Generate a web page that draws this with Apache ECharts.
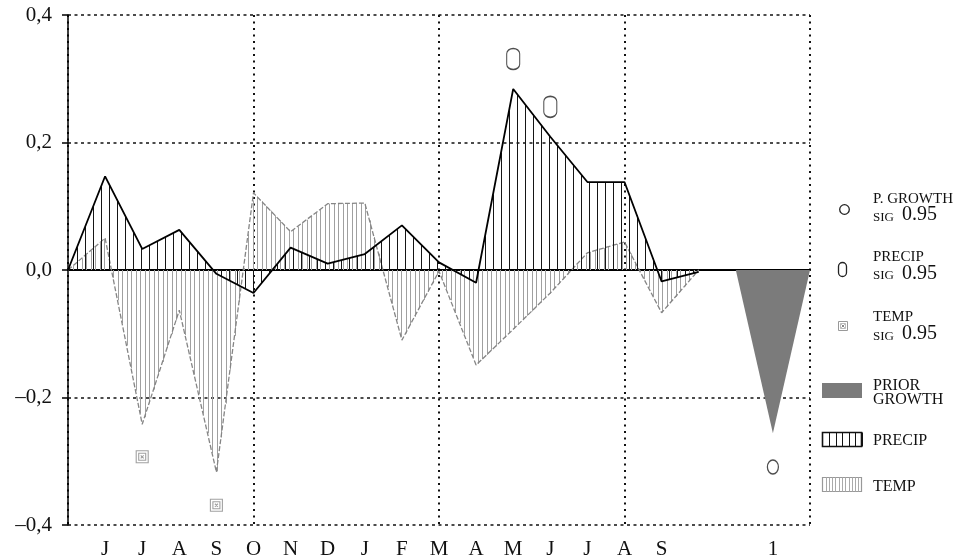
<!DOCTYPE html>
<html>
<head>
<meta charset="utf-8">
<script src="https://cdn.jsdelivr.net/npm/echarts@6/dist/echarts.min.js"></script>
<style>
  html, body { margin: 0; padding: 0; background: #fff; }
  #chart { width: 965px; height: 557px; }
</style>
</head>
<body>
<div id="chart"></div>
<script>
// Month labels of the response window, plus the prior-growth slot
const months = ['J', 'J', 'A', 'S', 'O', 'N', 'D', 'J', 'F', 'M', 'A', 'M', 'J', 'J', 'A', 'S'];
const priorLabel = '1';

// Position index of each series point (0 = origin, 1..16 = months, 17 = tail)
const seriesX = [0, 1, 2, 3, 4, 5, 6, 7, 8, 9, 10, 11, 12, 13, 14, 15, 16, 17];

// Response coefficients
const precipValues = [0, 0.147, 0.033, 0.063, -0.006, -0.036, 0.035, 0.010, 0.025, 0.070, 0.012, -0.020, 0.284, 0.209, 0.138, 0.138, -0.018, -0.003];
const tempValues   = [0, 0.050, -0.242, -0.063, -0.317, 0.121, 0.060, 0.104, 0.105, -0.110, -0.002, -0.149, -0.093, -0.036, 0.027, 0.044, -0.067, 0];

// Prior growth wedge
const priorX = [18, 19, 20];
const priorValues = [0, -0.256, 0];

// Significant coefficients (0.95)
const growthSigX = [19];
const growthSigValues = [-0.309];
const precipSigX = [12, 13];
const precipSigValues = [0.331, 0.256];
const tempSigX = [2, 4];
const tempSigValues = [-0.293, -0.369];

// Y tick labels use a decimal comma and an en dash
const yTickFormat = v => (v < -1e-9 ? '\u2013' : '') + Math.abs(v).toFixed(1).replace('.', ',');

const tickPos = months.map((m, i) => i + 1).concat([19]);
const tickText = months.concat([priorLabel]);

const SERIF = '"Liberation Serif", "DejaVu Serif", serif';

const zip = (xs, ys) => xs.map((x, i) => [x, ys[i]]);

// Vertical hatching between a polyline and the zero line
function hatchSeries(xs, ys, step, phase, color, z) {
  const segs = xs.slice(0, -1).map((x, i) => [x, ys[i], xs[i + 1], ys[i + 1]]);
  return {
    type: 'custom',
    z: z,
    silent: true,
    data: segs,
    encode: { x: [0, 2], y: [1, 3] },
    renderItem: function (params, api) {
      const a = api.coord([api.value(0), api.value(1)]);
      const b = api.coord([api.value(2), api.value(3)]);
      const y0 = api.coord([api.value(0), 0])[1];
      const left = api.coord([0, 0])[0] + phase;
      const children = [];
      let px = left + Math.ceil((a[0] - left) / step) * step;
      for (; px < b[0]; px += step) {
        const t = (px - a[0]) / (b[0] - a[0]);
        const y = a[1] + t * (b[1] - a[1]);
        const xx = Math.round(px) + 0.5;
        children.push({
          type: 'line',
          shape: { x1: xx, y1: y, x2: xx, y2: y0 },
          style: { stroke: color, lineWidth: 1 }
        });
      }
      return { type: 'group', children: children };
    }
  };
}

// Legend drawn as graphic elements
function legendGraphics() {
  const els = [];
  const tx = 873;
  const text = (s, x, baseline, size, color) => ({
    type: 'text', x: x, y: baseline - 0.33 * size,
    style: { text: s, font: size + 'px ' + SERIF, fill: color || '#111', verticalAlign: 'middle', align: 'left' }
  });
  const sigRow = (baseline) => [
    text('SIG', tx, baseline, 13),
    text('0.95', tx + 29, baseline, 20)
  ];

  // P. GROWTH SIG
  els.push({ type: 'circle', shape: { cx: 844.5, cy: 209.5, r: 4.8 }, style: { fill: 'none', stroke: '#222', lineWidth: 1.3 } });
  els.push(text('P. GROWTH', tx, 204.5, 15));
  els.push(...sigRow(221.8));

  // PRECIP SIG
  els.push({ type: 'rect', shape: { x: 838.5, y: 262.5, width: 8, height: 14, r: 4 }, style: { fill: 'none', stroke: '#222', lineWidth: 1.3 } });
  els.push(text('PRECIP', tx, 261.8, 15));
  els.push(...sigRow(280.2));

  // TEMP SIG
  els.push({ type: 'rect', shape: { x: 838.5, y: 321.5, width: 9, height: 9 }, style: { fill: 'none', stroke: '#999', lineWidth: 1 } });
  els.push({ type: 'rect', shape: { x: 840.5, y: 323.5, width: 5, height: 5 }, style: { fill: 'none', stroke: '#aaa', lineWidth: 0.8 } });
  els.push({ type: 'line', shape: { x1: 841.5, y1: 324.5, x2: 844.5, y2: 327.5 }, style: { stroke: '#666', lineWidth: 0.8 } });
  els.push({ type: 'line', shape: { x1: 844.5, y1: 324.5, x2: 841.5, y2: 327.5 }, style: { stroke: '#666', lineWidth: 0.8 } });
  els.push(text('TEMP', tx, 321.8, 15));
  els.push(...sigRow(340.8));

  // PRIOR GROWTH
  els.push({ type: 'rect', shape: { x: 822, y: 383, width: 40, height: 15 }, style: { fill: '#7b7b7b' } });
  els.push(text('PRIOR', tx, 390.7, 16));
  els.push(text('GROWTH', tx, 405.3, 16));

  // PRECIP hatch swatch
  els.push({ type: 'rect', shape: { x: 822.5, y: 432.5, width: 39, height: 14 }, style: { fill: '#fff', stroke: '#111', lineWidth: 1.6 } });
  for (let x = 829; x < 862; x += 6.5) {
    const xx = Math.round(x) + 0.5;
    els.push({ type: 'line', shape: { x1: xx, y1: 432.5, x2: xx, y2: 446.5 }, style: { stroke: '#111', lineWidth: 1 } });
  }
  els.push(text('PRECIP', tx, 446, 16));

  // TEMP hatch swatch
  els.push({ type: 'rect', shape: { x: 822.5, y: 477.5, width: 39, height: 14 }, style: { fill: '#fff', stroke: '#999', lineWidth: 1.2 } });
  for (let x = 825.5; x < 861; x += 3.3) {
    const xx = Math.round(x) + 0.5;
    els.push({ type: 'line', shape: { x1: xx, y1: 477.5, x2: xx, y2: 491.5 }, style: { stroke: '#aaa', lineWidth: 1 } });
  }
  els.push(text('TEMP', tx, 492, 16));
  return els;
}

const chart = echarts.init(document.getElementById('chart'), null, { renderer: 'canvas' });

chart.setOption({
  animation: false,
  backgroundColor: '#fff',
  grid: { left: 68, right: 155, top: 15, bottom: 32, containLabel: false, outerBoundsMode: 'none' },
  xAxis: [
    {
      type: 'value', min: 0, max: 20, interval: 5, position: 'top',
      axisLine: { show: true, onZero: true, lineStyle: { color: '#000', width: 2 } },
      axisTick: { show: false },
      axisLabel: { show: false },
      splitLine: { show: true, showMinLine: true, showMaxLine: true, lineStyle: { color: '#111', type: [2, 4.5], width: 2 } }
    },
    {
      type: 'value', min: 0, max: 20, position: 'bottom',
      axisLine: { show: false, onZero: false },
      axisTick: { show: false },
      splitLine: { show: false },
      axisLabel: {
        show: true,
        customValues: tickPos,
        formatter: v => { const i = tickPos.indexOf(v); return i >= 0 ? tickText[i] : ''; },
        margin: 14,
        fontFamily: SERIF, fontSize: 21, color: '#111'
      }
    }
  ],
  yAxis: {
    type: 'value', min: -0.4, max: 0.4, interval: 0.2,
    axisLine: { show: true, onZero: false, lineStyle: { color: '#000', width: 1.5 } },
    axisTick: { show: true, inside: false, length: 6, lineStyle: { color: '#000', width: 1.5 } },
    axisLabel: { formatter: yTickFormat, fontFamily: SERIF, fontSize: 21, color: '#111', margin: 16 },
    splitLine: { show: true, lineStyle: { color: '#111', type: [3, 3.5], width: 1.5 } }
  },
  graphic: legendGraphics(),
  series: [
    hatchSeries(seriesX, tempValues, 4.5, 0, '#a0a0a0', 1),
    {
      type: 'line', z: 2, silent: true, symbol: 'none',
      data: zip(seriesX, tempValues),
      lineStyle: { color: '#858585', width: 1.3, type: [5, 2] }
    },
    hatchSeries(seriesX, precipValues, 8, 1, '#151515', 3),
    {
      type: 'line', z: 4, silent: true, symbol: 'none',
      data: zip(seriesX, precipValues),
      lineStyle: { color: '#000', width: 1.8 }
    },
    {
      type: 'line', z: 2, silent: true, symbol: 'none',
      data: zip(priorX, priorValues),
      lineStyle: { width: 0, color: '#7b7b7b' },
      areaStyle: { color: '#7b7b7b', opacity: 1 }
    },
    {
      type: 'scatter', z: 5, silent: true,
      data: zip(growthSigX, growthSigValues),
      symbol: 'path://M0,7 A6,7 0 1 1 12,7 A6,7 0 1 1 0,7 Z',
      symbolSize: [11, 14], symbolKeepAspect: false,
      itemStyle: { color: 'rgba(255,255,255,0)', borderColor: '#222', borderWidth: 1.4 }
    },
    {
      type: 'scatter', z: 5, silent: true,
      data: zip(precipSigX, precipSigValues),
      symbol: 'path://M0,5 A6,5 0 0 1 12,5 L12,15 A6,5 0 0 1 0,15 Z',
      symbolSize: [13, 21], symbolKeepAspect: false,
      itemStyle: { color: 'rgba(255,255,255,0)', borderColor: '#222', borderWidth: 1.3 }
    },
    {
      type: 'scatter', z: 5, silent: true,
      data: zip(tempSigX, tempSigValues),
      symbol: 'path://M0,0 L12,0 L12,12 L0,12 Z M2.5,2.5 L9.5,2.5 L9.5,9.5 L2.5,9.5 Z M4.5,4.5 L7.5,7.5 M7.5,4.5 L4.5,7.5',
      symbolSize: [12, 12], symbolKeepAspect: false,
      itemStyle: { color: 'rgba(255,255,255,0)', borderColor: '#8a8a8a', borderWidth: 1.1 }
    }
  ]
});
</script>
</body>
</html>
